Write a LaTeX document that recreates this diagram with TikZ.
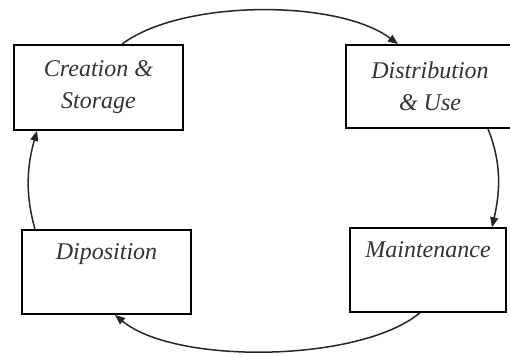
\documentclass[tikz,border=0pt]{standalone}
\usepackage{fontspec}
\setmainfont{Liberation Serif}
\usetikzlibrary{arrows.meta}
\tikzset{
  box/.style={draw=black, line width=1.8pt, rectangle, align=center, inner sep=0pt,
    font=\fontsize{24}{32}\selectfont\itshape, text=black!80},
  conn/.style={draw=black!85, line width=1.5pt, -{Triangle[length=10pt,width=8pt]}}
}
\begin{document}
\begin{tikzpicture}[x=1pt,y=-1pt]
\useasboundingbox (0,0) rectangle (510,356);
\clip (0,0) rectangle (510,356);
\fill[white] (0,0) rectangle (510,356);
\node[box, minimum width=169pt, minimum height=85pt] (c) at (98.5,87.5) {Creation \&\\Storage};
\node[box, minimum width=168pt, minimum height=83pt] (d) at (430,86.5) {Distribution\\\& Use};
\node[box, minimum width=169pt, minimum height=84pt] (dp) at (106.5,272) {Diposition\\\strut};
\node[box, minimum width=156pt, minimum height=84pt, line width=1.5pt] (m) at (428,270) {Maintenance\\\strut};
\draw[conn] ([xshift=23.5pt]c.north) .. controls +(60,-45) and +(-60,-45) .. ([xshift=-32pt]d.north);
\draw[conn] ([xshift=58pt]d.south) .. controls +(14,35) and +(8,-35) .. ([xshift=64pt]m.north);
\draw[conn] ([xshift=-8pt]m.south) .. controls +(-60,50) and +(60,50) .. ([xshift=8.5pt]dp.south);
\draw[conn] ([xshift=-71.5pt]dp.north) .. controls +(-10,-35) and +(-10,35) .. ([xshift=-61.5pt]c.south);
\end{tikzpicture}
\end{document}
